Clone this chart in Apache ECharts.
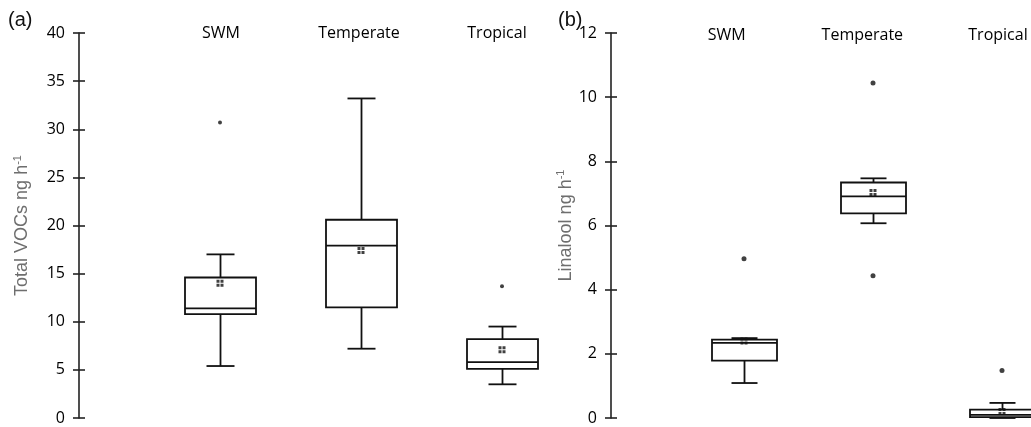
<!DOCTYPE html>
<html>
<head>
<meta charset="utf-8">
<script src="https://cdn.jsdelivr.net/npm/echarts@6/dist/echarts.min.js"></script>
<style>
  html, body { margin: 0; background: #fff; }
  #chart { width: 1031px; height: 427px; }
</style>
</head>
<body>
<div id="chart"></div>
<script>
// categories of both panels
const categories = ['SWM', 'Temperate', 'Tropical']
// axis slots: an empty slot before the first box so it sits one step in from the y axis
const leftSlots = ['', 'SWM', 'Temperate', 'Tropical', ' ']
const rightSlots = ['', 'SWM', 'Temperate', 'Tropical']

// (a) Total VOCs: [min, Q1, median, Q3, max]
const vocBoxes = [
  [5.4, 10.8, 11.4, 14.6, 17.0],
  [7.2, 11.5, 17.9, 20.6, 33.2],
  [3.5, 5.1, 5.8, 8.2, 9.5]
]
const vocMeans = [14.0, 17.4, 7.1]
const vocOutliers = [['SWM', 30.7], ['Tropical', 13.7]]

// (b) Linalool: [min, Q1, median, Q3, max]
const linBoxes = [
  [1.09, 1.79, 2.34, 2.44, 2.49],
  [6.07, 6.38, 6.91, 7.34, 7.47],
  [0.0, 0.03, 0.1, 0.26, 0.47]
]
const linMeans = [2.4, 7.03, 0.2]
const linOutliers = [['SWM', 4.96], ['Temperate', 10.44], ['Temperate', 4.43], ['Tropical', 1.48]]

// y scales
const vocScale = { min: 0, max: 40, interval: 5 }
const linScale = { min: 0, max: 12, interval: 2 }

const INK = '#111'
const tickFont = '"Open Sans", "Liberation Sans", sans-serif'
const nameFont = '"Liberation Sans", Arial, sans-serif'
const meanSymbol = 'path://M0,0h3v3h-3z M4,0h3v3h-3z M0,4h3v3h-3z M4,4h3v3h-3z'

function boxRenderer(boxW, capW) {
  return function (params, api) {
    const c = api.value(0)
    const p = [1, 2, 3, 4, 5].map(i => api.coord([c, api.value(i)]))
    const x = Math.round(p[0][0]) + 0.5
    const st = { stroke: INK, lineWidth: 1.8, fill: null }
    const hline = (y, w) => ({ type: 'line', shape: { x1: x - w / 2, y1: y, x2: x + w / 2, y2: y }, style: st })
    return {
      type: 'group',
      children: [
        { type: 'line', shape: { x1: x, y1: p[0][1], x2: x, y2: p[1][1] }, style: st },
        { type: 'line', shape: { x1: x, y1: p[3][1], x2: x, y2: p[4][1] }, style: st },
        hline(p[0][1], capW),
        hline(p[4][1], capW),
        {
          type: 'rect',
          shape: { x: x - boxW / 2, y: p[3][1], width: boxW, height: p[1][1] - p[3][1] },
          style: { stroke: INK, lineWidth: 1.8, fill: '#fff' }
        },
        hline(p[2][1], boxW)
      ]
    }
  }
}

function valueAxis(grid, scale, name, gap, offset) {
  return {
    type: 'value', gridIndex: grid, position: 'left', offset: offset,
    min: scale.min, max: scale.max, interval: scale.interval,
    splitLine: { show: false },
    axisLine: { show: true, lineStyle: { color: '#222', width: 1.6 } },
    axisTick: { show: true, length: 6, lineStyle: { color: '#222', width: 1.6 } },
    axisLabel: { color: '#000', fontSize: 16, fontFamily: tickFont, margin: 14 },
    name: name, nameLocation: 'middle', nameGap: gap,
    nameTextStyle: {
      rich: {
        a: { color: '#6e6e6e', fontSize: 18, fontFamily: nameFont },
        s: { color: '#6e6e6e', fontSize: 11, fontFamily: nameFont, verticalAlign: 'top', padding: [0, 0, 9, 0] }
      }
    }
  }
}

function innerTicks(grid, scale, offset) {
  return {
    type: 'value', gridIndex: grid, position: 'left', offset: offset,
    min: scale.min, max: scale.max, interval: scale.interval,
    splitLine: { show: false },
    axisLine: { show: false },
    axisTick: { show: true, inside: true, length: 6, lineStyle: { color: '#222', width: 1.6 } },
    axisLabel: { show: false }
  }
}

function slotAxis(grid, slots) {
  return {
    type: 'category', gridIndex: grid, data: slots, boundaryGap: false,
    axisLine: { show: false }, axisTick: { show: false }, axisLabel: { show: false },
    splitLine: { show: false }
  }
}

function labelAxis(grid, slots) {
  return {
    type: 'category', gridIndex: grid, data: slots, boundaryGap: false, position: 'top',
    axisLine: { show: false }, axisTick: { show: false },
    axisLabel: { interval: 0, color: '#000', fontSize: 16, fontFamily: tickFont, margin: 0, verticalAlign: 'middle' }
  }
}

const chart = echarts.init(document.getElementById('chart'))

const option = {
  backgroundColor: '#fff',
  animation: false,
  title: [
    { text: '(a)', left: 3, top: 5, textStyle: { fontSize: 20, fontWeight: 'normal', color: '#111', fontFamily: nameFont } },
    { text: '(b)', left: 553, top: 5, textStyle: { fontSize: 20, fontWeight: 'normal', color: '#111', fontFamily: nameFont } }
  ],
  grid: [
    { left: 79, top: 33, width: 564, height: 385 },
    { left: 615, top: 33, width: 387, height: 385 },
    { left: 83, top: 33, width: 552, height: 385 },
    { left: 591, top: 35, width: 407, height: 383 }
  ],
  xAxis: [slotAxis(0, leftSlots), slotAxis(1, rightSlots), labelAxis(2, leftSlots), labelAxis(3, rightSlots)],
  yAxis: [
    valueAxis(0, vocScale, '{a|Total VOCs ng h}{s|-1}', 47, 0),
    valueAxis(1, linScale, '{a|Linalool ng h}{s|-1}', 34, 4),
    { type: 'value', gridIndex: 2, show: false },
    { type: 'value', gridIndex: 3, show: false },
    innerTicks(0, vocScale, 0),
    innerTicks(1, linScale, 4)
  ],
  series: [
    {
      type: 'custom', xAxisIndex: 0, yAxisIndex: 0,
      renderItem: boxRenderer(71, 28),
      encode: { x: 0, y: [1, 2, 3, 4, 5] },
      data: categories.map((c, i) => [c].concat(vocBoxes[i]))
    },
    {
      type: 'scatter', xAxisIndex: 0, yAxisIndex: 0,
      symbol: meanSymbol, symbolSize: 7, itemStyle: { color: INK },
      data: categories.map((c, i) => [c, vocMeans[i]])
    },
    {
      type: 'scatter', xAxisIndex: 0, yAxisIndex: 0,
      symbol: 'circle', symbolSize: 4, itemStyle: { color: INK },
      data: vocOutliers
    },
    {
      type: 'custom', xAxisIndex: 1, yAxisIndex: 1,
      renderItem: boxRenderer(65, 26),
      encode: { x: 0, y: [1, 2, 3, 4, 5] },
      data: categories.map((c, i) => [c].concat(linBoxes[i]))
    },
    {
      type: 'scatter', xAxisIndex: 1, yAxisIndex: 1,
      symbol: meanSymbol, symbolSize: 7, itemStyle: { color: INK },
      data: categories.map((c, i) => [c, linMeans[i]])
    },
    {
      type: 'scatter', xAxisIndex: 1, yAxisIndex: 1,
      symbol: 'circle', symbolSize: 5, itemStyle: { color: INK },
      data: linOutliers
    }
  ]
}

chart.setOption(option)
</script>
</body>
</html>
